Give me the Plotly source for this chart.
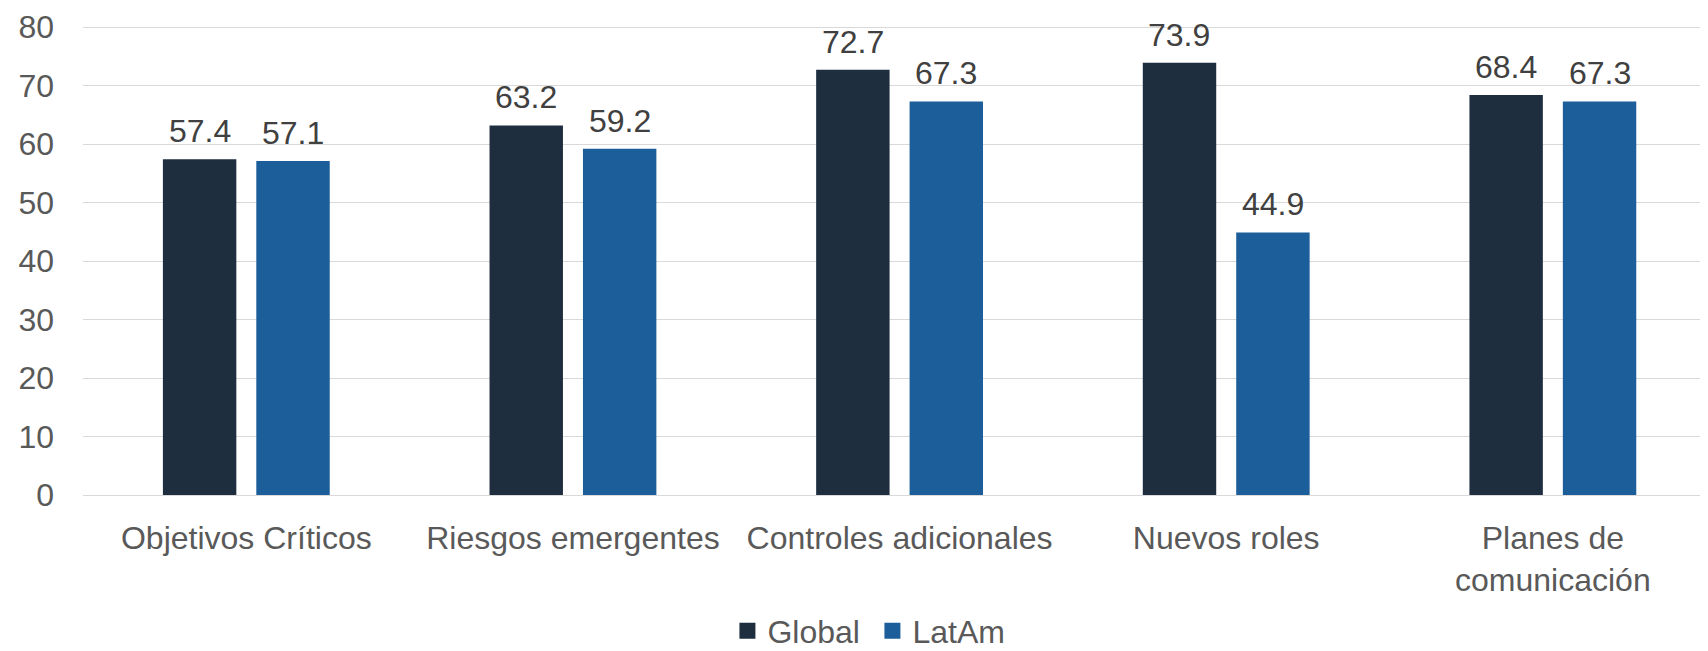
import plotly.graph_objects as go

categories = ["Objetivos Críticos", "Riesgos emergentes", "Controles adicionales",
              "Nuevos roles", "Planes de<br>comunicación"]
global_vals = [57.4, 63.2, 72.7, 73.9, 68.4]
latam_vals = [57.1, 59.2, 67.3, 44.9, 67.3]
y_ticks = [0, 10, 20, 30, 40, 50, 60, 70, 80]

FONT = "Liberation Sans, Arial, sans-serif"
GLOBAL_COLOR = "#1F2E3F"
LATAM_COLOR = "#1B5E9A"

fig = go.Figure()

for name, vals, color in [("Global", global_vals, GLOBAL_COLOR),
                          ("LatAm", latam_vals, LATAM_COLOR)]:
    fig.add_trace(go.Bar(
        x=categories,
        y=vals,
        name=name,
        marker=dict(color=color, line=dict(width=0)),
        showlegend=False,
        hoverinfo="skip"
    ))
    # legend entry with a bigger square than the default bar swatch
    fig.add_trace(go.Scatter(
        x=[None], y=[None],
        mode="markers",
        name=name,
        marker=dict(symbol="square", size=18, color=color),
        showlegend=True
    ))

# value labels above the bars
annotations = []
for vals, shift in [(global_vals, -46.75), (latam_vals, 46.75)]:
    for cat, v in zip(categories, vals):
        annotations.append(dict(
            x=cat, y=v, xref="x", yref="y",
            text=f"{v:.1f}",
            showarrow=False,
            xshift=shift,
            yshift=8,
            yanchor="bottom",
            font=dict(family=FONT, size=32, color="#404040")
        ))

# the page body adds an 8px offset; figure is made taller than the window
# so the legend never pushes the bottom margin
fig.update_layout(
    width=1700,
    height=680,
    margin=dict(l=75, r=0, t=18, b=193, autoexpand=False),
    plot_bgcolor="white",
    paper_bgcolor="white",
    font=dict(family=FONT, size=32, color="#595959"),
    barmode="group",
    bargap=0.428,
    bargroupgap=0.214,
    showlegend=True,
    legend=dict(
        orientation="h",
        x=0.4858,
        xanchor="center",
        y=-0.290,
        yanchor="middle",
        font=dict(family=FONT, size=32, color="#595959"),
        entrywidth=100,
        traceorder="normal"
    ),
    xaxis=dict(
        type="category",
        range=[-0.5, 4.475],
        showgrid=False,
        showline=False,
        zeroline=False,
        tickfont=dict(family=FONT, size=32, color="#595959"),
        ticklabelstandoff=21
    ),
    yaxis=dict(
        range=[0, 80.2],
        tickvals=y_ticks,
        showgrid=True,
        gridcolor="#D9D9D9",
        gridwidth=1.3,
        zeroline=True,
        zerolinecolor="#D9D9D9",
        zerolinewidth=1.3,
        showline=False,
        tickfont=dict(family=FONT, size=32, color="#595959"),
        ticklabelstandoff=28,
        ticklabeloverflow="allow"
    ),
    annotations=annotations
)

fig.write_html("out.html")
